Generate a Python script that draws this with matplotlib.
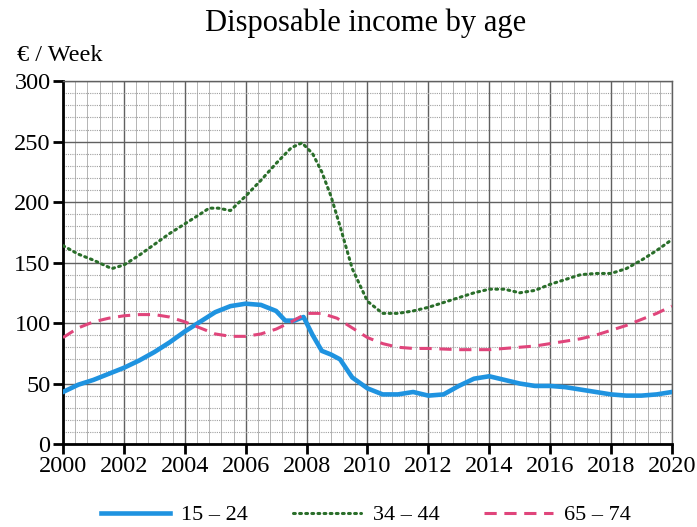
import matplotlib.pyplot as plt
from matplotlib.ticker import MultipleLocator

# Values
years_a = [2000, 2000.5, 2001, 2001.5, 2002, 2002.5, 2003, 2003.5, 2004, 2004.5, 2005, 2005.5,
           2006, 2006.5, 2007, 2007.3, 2007.6, 2007.9, 2008.2, 2008.5, 2008.8, 2009.1, 2009.5,
           2010, 2010.5, 2011, 2011.5, 2012, 2012.5, 2013, 2013.5, 2014, 2014.5, 2015, 2015.5,
           2016, 2016.5, 2017, 2017.5, 2018, 2018.5, 2019, 2019.5, 2020]
inc_15_24 = [43, 49, 53, 58, 63, 69, 76, 84, 93, 101, 109, 114,
             116, 115, 110, 102, 102, 105, 90, 77, 74, 70, 55,
             46, 41, 41, 43, 40, 41, 48, 54, 56, 53, 50, 48,
             48, 47, 45, 43, 41, 40, 40, 41, 43]

years_b = [2000, 2000.5, 2001, 2001.6, 2002, 2002.5, 2003, 2003.5, 2004, 2004.5, 2004.8, 2005.1,
           2005.5, 2006, 2006.5, 2007, 2007.5, 2007.85, 2008.2, 2008.5, 2008.8, 2009.1, 2009.5,
           2010, 2010.5, 2011, 2011.5, 2012, 2012.5, 2013, 2013.5, 2014, 2014.5, 2015, 2015.5,
           2016, 2016.5, 2017, 2017.5, 2018, 2018.5, 2019, 2019.5, 2020]
inc_34_44 = [164, 157, 152, 145, 148, 156, 165, 174, 182, 190, 195, 195,
             193, 205, 218, 232, 245, 249, 240, 225, 205, 180, 145,
             118, 108, 108, 110, 113, 117, 121, 125, 128, 128, 125, 127,
             132, 136, 140, 141, 141, 145, 152, 160, 169]

years_c = [2000, 2000.5, 2001, 2001.5, 2002, 2002.5, 2003, 2003.5, 2004, 2004.5, 2005, 2005.5,
           2006, 2006.5, 2007, 2007.5, 2008, 2008.5, 2009, 2009.5, 2010, 2010.5, 2011, 2011.5,
           2012, 2013, 2014, 2015, 2015.5, 2016, 2016.5, 2017, 2017.5, 2018, 2018.5, 2019,
           2019.5, 2020]
inc_65_74 = [88, 96, 101, 104, 106, 107, 107, 105, 101, 96, 91, 89,
             89, 91, 95, 101, 108, 108, 104, 96, 88, 83, 80, 79,
             79, 78, 78, 80, 81, 83, 85, 87, 90, 94, 98, 103,
             108, 114]

plt.rcParams['font.family'] = ['Liberation Serif', 'DejaVu Serif']

fig = plt.figure(figsize=(6.97, 5.27), dpi=100)
ax = fig.add_axes([0.0904, 0.1575, 0.8736, 0.6885])

ax.plot(years_a, inc_15_24, color="#1f93e0", linewidth=3.3, label="15 – 24", zorder=4)
ax.plot(years_b, inc_34_44, color="#2a6e2a", linewidth=2.2, linestyle=(0, (0.6, 1.4)),
        dash_capstyle="round", label="34 – 44", zorder=4)
ax.plot(years_c, inc_65_74, color="#e0457b", linewidth=2.2, linestyle=(0, (4, 2.5)),
        label="65 – 74", zorder=4)

ax.set_xlim(2000, 2020)
ax.set_ylim(0, 300)
ax.xaxis.set_major_locator(MultipleLocator(2))
ax.xaxis.set_minor_locator(MultipleLocator(0.4))
ax.yaxis.set_major_locator(MultipleLocator(50))
ax.yaxis.set_minor_locator(MultipleLocator(10))

ax.grid(which="major", color="#606060", linewidth=1.0)
ax.grid(which="minor", axis="x", color="#b4b4b4", linewidth=0.7)
ax.grid(which="minor", axis="y", color="#a0a0a0", linewidth=0.8, linestyle=(0, (1, 1)))
ax.set_axisbelow(True)

ax.tick_params(which="major", direction="out", length=7, width=2, labelsize=17.5, pad=2)
ax.tick_params(which="minor", length=0)

for s in ["left", "bottom"]:
    ax.spines[s].set_linewidth(2)
    ax.spines[s].set_color("black")
for s in ["top", "right"]:
    ax.spines[s].set_linewidth(1)
    ax.spines[s].set_color("#606060")

fig.text(0.525, 0.955, "Disposable income by age", ha="center", va="center", fontsize=22)
fig.text(0.025, 0.895, "€ / Week", ha="left", va="center", fontsize=17.5)

fig.legend(loc="lower center", bbox_to_anchor=(0.525, -0.035), ncol=3, frameon=False,
           fontsize=16, handlelength=3.1, columnspacing=2.0, handletextpad=0.5)

plt.savefig("out.png", dpi=100)
